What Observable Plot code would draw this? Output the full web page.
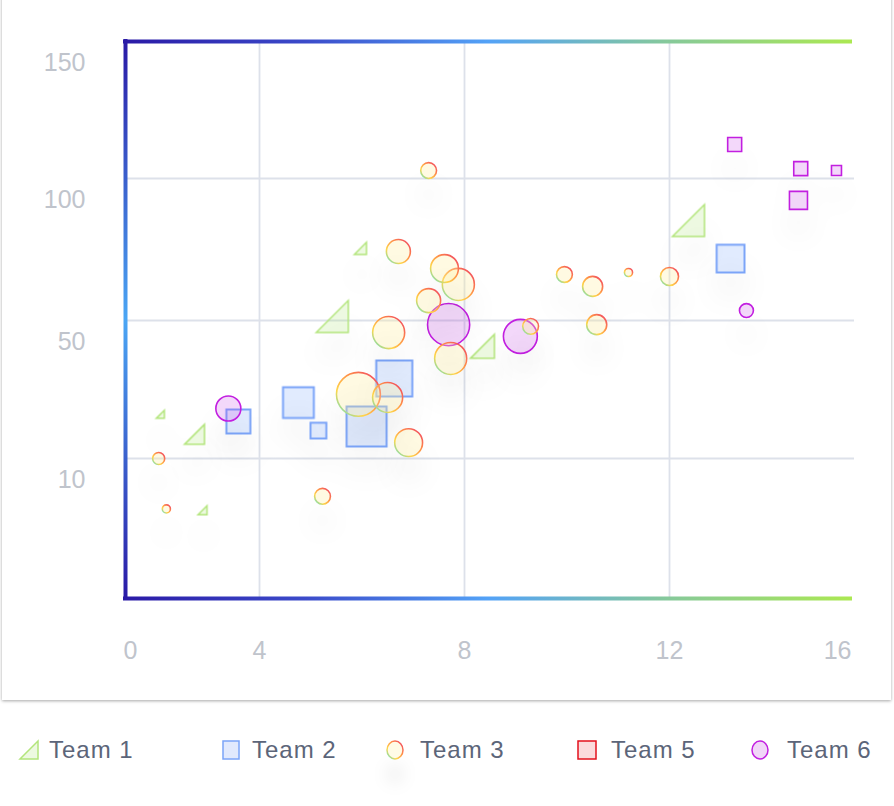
<!DOCTYPE html>
<html><head><meta charset="utf-8">
<script src="https://cdn.jsdelivr.net/npm/d3@7"></script>
<script src="https://cdn.jsdelivr.net/npm/@observablehq/plot@0.6"></script>
<style>
body{margin:0;background:#fff;font-family:"Liberation Sans",Arial,sans-serif;}
#wrap{position:relative;width:894px;height:806px;overflow:hidden;}
#card{position:absolute;left:2px;top:-4px;width:889px;height:704px;background:#fff;box-shadow:0 1px 3px rgba(0,0,0,0.35);}
#chart{position:absolute;left:0;top:0;}
.icon{position:absolute;top:740px;}
.lab{position:absolute;top:736px;font-size:24px;letter-spacing:1px;line-height:28px;color:#5c6579;white-space:nowrap;}
</style></head><body>
<div id="wrap"><div id="card"></div><div id="chart"></div><div id="legend"></div></div>
<script>
// ---- data ----
const xTicks = [0, 4, 8, 12, 16];
const yTicks = [10, 50, 100, 150];
const teamNames = ["Team 1", "Team 2", "Team 3", "Team 5", "Team 6"];

const team1X = [1.04, 2.06, 2.30, 5.97, 5.42, 8.35, 12.42];
const team1Y = [22.8, 17.0, 6.3, 75.4, 51.4, 42.5, 85.2];
const team1Size = [2.6, 16, 3.2, 5.8, 41, 23, 41];

const team2X = [3.37, 4.76, 5.15, 6.09, 6.63, 13.35];
const team2Y = [20.7, 26.2, 18.1, 19.3, 33.2, 71.8];
const team2Size = [23, 38, 10, 64, 52, 31];

const team3X = [0.99, 1.22, 5.23, 5.93, 6.50, 6.91, 6.52, 6.71, 7.30, 7.61, 7.88, 7.30, 7.73, 9.29, 9.95, 10.50, 11.20, 10.58, 12.00];
const team3Y = [10.0, 6.4, 7.3, 28.6, 27.7, 14.6, 46.5, 74.3, 102.9, 68.3, 62.7, 57.0, 39.0, 48.3, 66.2, 62.0, 66.9, 48.8, 65.5];
const team3Size = [5.8, 2.6, 10, 77, 36, 31, 41, 23, 10, 31, 41, 23, 41, 10, 10, 16, 2.6, 16, 13];

const team5X = [];
const team5Y = [];
const team5Size = [];

const team6CircleX = [3.07, 7.69, 9.09, 13.70];
const team6CircleY = [24.5, 48.8, 45.4, 53.5];
const team6CircleSize = [25, 71, 46, 7.8];

const team6SquareX = [13.44, 14.90, 15.69, 14.85];
const team6SquareY = [112.4, 103.6, 102.9, 92.3];
const team6SquareSize = [7.8, 7.8, 4, 13];

// ---- helpers ----
const rows = (xs, ys, ss) => xs.map((x, i) => ({x, y: ys[i], size: ss[i]}));
const squareSym = {draw(ctx, size) { const r = Math.sqrt(size / Math.PI); ctx.rect(-r, -r, 2 * r, 2 * r); }};
const triSym = {draw(ctx, size) { const r = Math.sqrt(size / Math.PI); ctx.moveTo(-r, r); ctx.lineTo(r, r); ctx.lineTo(r, -r); ctx.closePath(); }};

const C = {
  t1Fill: "rgba(166,223,106,0.2)", t1Stroke: "#b3e57c",
  t2Fill: "rgba(91,143,249,0.18)", t2Stroke: "#7ba4f8",
  t3Fill: "rgba(255,240,160,0.3)",
  t5Fill: "#fbdadc", t5Stroke: "#e3101c",
  t6Fill: "rgba(196,60,230,0.2)", t6Stroke: "#c21fe0",
  grid: "#dde1ea", tick: "#c0c4cc"
};

const svg = Plot.plot({
  width: 894, height: 700,
  marginLeft: 0, marginRight: 0, marginTop: 0, marginBottom: 0,
  style: {background: "transparent", fontFamily: "'Liberation Sans', Arial, sans-serif"},
  x: {type: "linear", domain: xTicks, range: [125, 259, 464, 669, 850], axis: null},
  y: {type: "linear", domain: [0, ...yTicks], range: [598, 458, 320, 178, 41], axis: null},
  r: {type: "sqrt", domain: [0, 100], range: [0, 25]},
  marks: [
    Plot.ruleX(xTicks.slice(1, -1), {y1: 0, y2: 150, stroke: C.grid, strokeWidth: 1.8}),
    Plot.ruleY(yTicks.slice(0, -1), {x1: 0, x2: 16, stroke: C.grid, strokeWidth: 1.8, insetRight: -4}),
    Plot.ruleY([0, 150], {x1: 0, x2: 16, stroke: "url(#gradH)", strokeWidth: 4, strokeLinecap: "square"}),
    Plot.ruleX([0], {y1: 0, y2: 150, stroke: "url(#gradV)", strokeWidth: 4, strokeLinecap: "square"}),
    Plot.text(yTicks, {x: 0, y: d => d, text: d => String(d), textAnchor: "end", dx: -40, dy: 21, fill: C.tick, fontSize: 25, letterSpacing: 1}),
    Plot.text([xTicks[0]], {x: d => d, y: 0, text: d => String(d), textAnchor: "start", dx: -2, dy: 52, fill: C.tick, fontSize: 25}),
    Plot.text(xTicks.slice(1, -1), {x: d => d, y: 0, text: d => String(d), textAnchor: "middle", dy: 52, fill: C.tick, fontSize: 25}),
    Plot.text([xTicks[4]], {x: d => d, y: 0, text: d => String(d), textAnchor: "end", dx: 1, dy: 52, fill: C.tick, fontSize: 25}),
    Plot.dot(rows(team1X, team1Y, team1Size), {x: "x", y: "y", r: "size", symbol: triSym, fill: C.t1Fill, stroke: C.t1Stroke, strokeWidth: 1.5}),
    Plot.dot(rows(team2X, team2Y, team2Size), {x: "x", y: "y", r: "size", symbol: squareSym, fill: C.t2Fill, stroke: C.t2Stroke, strokeWidth: 2}),
    Plot.dot(rows(team5X, team5Y, team5Size), {x: "x", y: "y", r: "size", symbol: squareSym, fill: C.t5Fill, stroke: C.t5Stroke, strokeWidth: 1.5}),
    Plot.dot(rows(team6CircleX, team6CircleY, team6CircleSize), {x: "x", y: "y", r: "size", symbol: "circle", fill: C.t6Fill, stroke: C.t6Stroke, strokeWidth: 1.6}),
    Plot.dot(rows(team6SquareX, team6SquareY, team6SquareSize), {x: "x", y: "y", r: "size", symbol: squareSym, fill: C.t6Fill, stroke: C.t6Stroke, strokeWidth: 1.6}),
    Plot.dot(rows(team3X, team3Y, team3Size), {x: "x", y: "y", r: "size", symbol: "circle", fill: C.t3Fill, stroke: "url(#grad3)", strokeWidth: 1.6})
  ]
});

const ringStops = `<stop offset="0" stop-color="#4fe0d8"/><stop offset="0.3" stop-color="#ffd64a"/><stop offset="0.6" stop-color="#ff9148"/><stop offset="1" stop-color="#ee3a66"/>`;
d3.select(svg).insert("defs", ":first-child").html(`
  <linearGradient id="gradH" gradientUnits="userSpaceOnUse" x1="125" y1="0" x2="850" y2="0">
    <stop offset="0" stop-color="#2a1aa6"/><stop offset="0.25" stop-color="#3b4bca"/>
    <stop offset="0.5" stop-color="#53a2f7"/><stop offset="0.75" stop-color="#86c99a"/>
    <stop offset="1" stop-color="#abe852"/>
  </linearGradient>
  <linearGradient id="gradV" gradientUnits="userSpaceOnUse" x1="0" y1="41" x2="0" y2="598">
    <stop offset="0" stop-color="#2a1aa6"/><stop offset="0.5" stop-color="#4ba6f4"/>
    <stop offset="1" stop-color="#2a1aa6"/>
  </linearGradient>
  <linearGradient id="grad3" x1="0" y1="1" x2="1" y2="0">${ringStops}</linearGradient>
`);
d3.select(svg).selectAll('g[aria-label="dot"]').style("filter", "drop-shadow(0px 24px 12px rgba(0,0,0,0.09))");
document.getElementById("chart").appendChild(svg);

// ---- legend ----
const legend = d3.select("#legend");
const iconX = [19, 221, 385, 577, 750];
const labelX = [49, 252, 420, 611, 787];
const icons = [
  `<path d="M1,19 L19,19 L19,1 Z" fill="${C.t1Fill}" stroke="${C.t1Stroke}" stroke-width="1.5"/>`,
  `<rect x="2" y="1" width="16" height="18" fill="#e1e9fd" stroke="${C.t2Stroke}" stroke-width="1.5"/>`,
  `<defs><linearGradient id="gradL3" x1="0" y1="1" x2="1" y2="0">${ringStops}</linearGradient></defs><ellipse cx="10" cy="10" rx="8" ry="9" fill="#fffbe6" stroke="url(#gradL3)" stroke-width="1.5" style="filter:drop-shadow(0px 24px 8px rgba(0,0,0,0.06))"/>`,
  `<rect x="1" y="1" width="18" height="18" fill="${C.t5Fill}" stroke="${C.t5Stroke}" stroke-width="1.5"/>`,
  `<ellipse cx="10" cy="10" rx="8" ry="9" fill="#f1d6f8" stroke="${C.t6Stroke}" stroke-width="1.5"/>`
];
teamNames.forEach((name, i) => {
  legend.append("svg").attr("class", "icon").attr("width", 20).attr("height", 60)
    .style("left", iconX[i] + "px").style("overflow", "visible").html(icons[i]);
  legend.append("div").attr("class", "lab").style("left", labelX[i] + "px").text(name);
});
</script>
</body></html>
